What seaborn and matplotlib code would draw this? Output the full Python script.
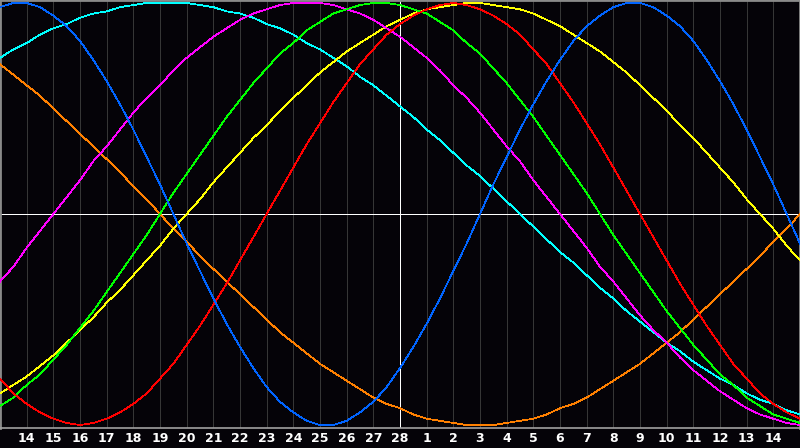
import matplotlib
matplotlib.use("Agg")
import matplotlib.pyplot as plt
import seaborn as sns
import pandas as pd

# day index across the chart (0 = left edge, 15 = today)
days = [d for d in range(31)]
half_days = [d + 0.5 for d in range(30)]
# tick labels (grid positions 1..29)
tick_pos = list(range(1, 30))
tick_labels = [str(v) for v in list(range(14, 29)) + list(range(1, 15))]
today = 15

# cycle values (percent) read at each whole day
blue_23 = [98, 100, 94, 82, 63, 40, 14, -14, -40, -63, -82, -94, -100, -98, -89, -73,
           -52, -27, 0, 27, 52, 73, 89, 98, 100, 94, 82, 63, 40, 14, -14]
red_28 = [-78, -90, -97, -100, -97, -90, -78, -62, -43, -22, 0, 22, 43, 62, 78, 90,
          97, 100, 97, 90, 78, 62, 43, 22, 0, -22, -43, -62, -78, -90, -97]
green_33 = [-91, -81, -69, -54, -37, -19, 0, 19, 37, 54, 69, 81, 91, 97, 100, 99,
            95, 87, 76, 62, 46, 28, 10, -10, -28, -46, -62, -76, -87, -95, -99]
magenta_38 = [-32, -16, 0, 16, 32, 48, 61, 74, 84, 92, 97, 100, 100, 97, 92, 84,
              74, 61, 48, 32, 16, 0, -16, -32, -48, -61, -74, -84, -92, -97, -100]
yellow_43 = [-85, -77, -67, -55, -42, -29, -15, 0, 15, 29, 42, 55, 67, 77, 85, 92,
             97, 99, 100, 98, 95, 89, 81, 72, 61, 49, 36, 22, 7, -7, -22]
orange_48 = [71, 61, 50, 38, 26, 13, 0, -13, -26, -38, -50, -61, -71, -79, -87, -92,
             -97, -99, -100, -99, -97, -92, -87, -79, -71, -61, -50, -38, -26, -13, 0]
cyan_53 = [74, 81, 88, 93, 96, 99, 100, 100, 98, 95, 90, 85, 78, 70, 61, 51,
           40, 29, 18, 6, -6, -18, -29, -40, -51, -61, -70, -78, -85, -90, -95]

# cycle values (percent) read at each half day
blue_23_h = [100, 98, 89, 73, 52, 27, 0, -27, -52, -73, -89, -98, -100, -94, -82,
             -63, -40, -14, 14, 40, 63, 82, 94, 100, 98, 89, 73, 52, 27, 0]
red_28_h = [-85, -94, -99, -99, -94, -85, -71, -53, -33, -11, 11, 33, 53, 71, 85,
            94, 99, 99, 94, 85, 71, 53, 33, 11, -11, -33, -53, -71, -85, -94]
green_33_h = [-87, -76, -62, -46, -28, -10, 10, 28, 46, 62, 76, 87, 95, 99, 100,
              97, 91, 81, 69, 54, 37, 19, 0, -19, -37, -54, -69, -81, -91, -97]
magenta_38_h = [-25, -8, 8, 25, 40, 55, 68, 79, 88, 95, 99, 100, 99, 95, 88,
                79, 68, 55, 40, 25, 8, -8, -25, -40, -55, -68, -79, -88, -95, -99]
yellow_43_h = [-81, -72, -61, -49, -36, -22, -7, 7, 22, 36, 49, 61, 72, 81, 89,
               95, 98, 100, 99, 97, 92, 85, 77, 67, 55, 42, 29, 15, 0, -15]
orange_48_h = [66, 56, 44, 32, 20, 7, -7, -20, -32, -44, -56, -66, -75, -83, -90,
               -95, -98, -100, -100, -98, -95, -90, -83, -75, -66, -56, -44, -32, -20, -7]
cyan_53_h = [78, 85, 90, 95, 98, 100, 100, 99, 96, 93, 88, 81, 74, 65, 56,
             46, 35, 23, 12, 0, -12, -23, -35, -46, -56, -65, -74, -81, -88, -93]

series = {
    "orange": (orange_48, orange_48_h),
    "cyan": (cyan_53, cyan_53_h),
    "yellow": (yellow_43, yellow_43_h),
    "magenta": (magenta_38, magenta_38_h),
    "green": (green_33, green_33_h),
    "red": (red_28, red_28_h),
    "blue": (blue_23, blue_23_h),
}
palette = {
    "orange": "#ff8000",
    "cyan": "#00ffff",
    "yellow": "#ffff00",
    "magenta": "#ff00ff",
    "green": "#00ff00",
    "red": "#ff0000",
    "blue": "#0064ff",
}

rows = []
for name, (whole, half) in series.items():
    for d, v in zip(days, whole):
        rows.append({"day": d, "value": v / 100.0, "cycle": name})
    for d, v in zip(half_days, half):
        rows.append({"day": d, "value": v / 100.0, "cycle": name})
df = pd.DataFrame(rows).sort_values(["cycle", "day"]).reset_index(drop=True)

bg = "#050308"
fig = plt.figure(figsize=(8, 4.48), dpi=100)
fig.patch.set_facecolor(bg)
ax = fig.add_axes([0, 20 / 448, 1, 428 / 448])
ax.set_facecolor(bg)

ax.set_xlim(0, 30)
ax.set_ylim(-1.014, 1.014)
ax.set_xticks(tick_pos)
ax.set_xticklabels(tick_labels)
ax.set_yticks([])
ax.tick_params(axis="x", length=0, pad=3, colors="white", labelsize=9)
for lab in ax.get_xticklabels():
    lab.set_fontweight("bold")
ax.grid(axis="x", color="#383838", linewidth=0.7)
ax.set_axisbelow(True)

ax.axhline(0, color="white", linewidth=0.6, zorder=1.5, antialiased=False)
ax.axvline(today, color="white", linewidth=0.6, zorder=1.5, antialiased=False)

sns.lineplot(data=df, x="day", y="value", hue="cycle", palette=palette,
             hue_order=list(series.keys()), linewidth=0.55, legend=False,
             ax=ax, zorder=3, estimator=None, sort=True, antialiased=False)
ax.set_xlabel("")
ax.set_ylabel("")

for side in ["left", "top", "right"]:
    ax.spines[side].set_color("#8a8a8a")
    ax.spines[side].set_linewidth(2.0)
ax.spines["bottom"].set_color("#a0a0a0")
ax.spines["bottom"].set_linewidth(1.2)

fig.savefig("out.png", dpi=100, facecolor=bg)
